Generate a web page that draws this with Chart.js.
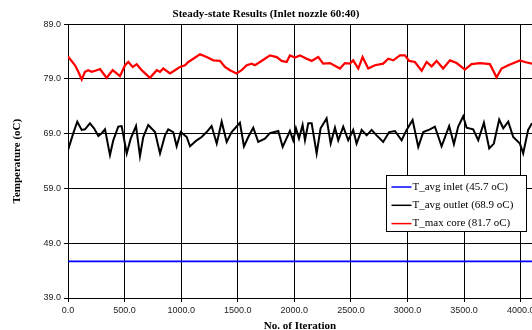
<!DOCTYPE html>
<html><head><meta charset="utf-8">
<script src="https://cdn.jsdelivr.net/npm/chart.js@4/dist/chart.umd.min.js"></script>
<style>
html,body{margin:0;padding:0;background:#fff;overflow:hidden;}
#wrap{width:532px;height:330px;overflow:hidden;position:relative;background:#fff;}
#c{position:absolute;left:0;top:0;}
</style></head><body>
<div id="wrap"><canvas id="c" width="585" height="335"></canvas></div>
<script>
const xTickValues = [0, 500, 1000, 1500, 2000, 2500, 3000, 3500, 4000];
const yTickValues = [39, 49, 59, 69, 79, 89];

const inletIter = [0, 4100];
const inletTemp = [45.7, 45.7];

const outletIter = [0,47,82,121,150,194,230,268,298,327,371,400,444,474,519,554,601,636,665,709,769,813,857,886,930,960,996,1049,1078,1137,1181,1225,1269,1314,1358,1402,1446,1519,1555,1593,1637,1681,1740,1784,1858,1897,1961,1990,2014,2041,2073,2094,2123,2153,2197,2232,2285,2321,2359,2388,2432,2476,2520,2550,2595,2639,2683,2727,2785,2838,2889,2948,2992,3045,3095,3139,3198,3242,3301,3368,3410,3448,3492,3522,3580,3625,3675,3722,3763,3810,3846,3890,3934,3993,4022,4066,4100];
const outletTemp = [66.0,69.1,71.2,69.7,69.8,70.9,70.0,68.6,69.1,69.8,65.1,67.8,70.3,70.4,65.4,68.1,70.4,64.9,68.4,70.6,69.3,65.4,68.7,69.8,69.3,66.7,69.3,68.4,66.7,67.8,68.4,69.3,70.4,67.2,71.2,67.5,69.3,71.0,66.7,68.4,70.1,67.5,68.1,69.1,69.5,66.6,69.5,67.8,70.0,68.1,70.6,67.8,70.9,70.9,65.4,70.0,71.8,67.2,70.1,67.8,70.3,67.8,69.7,67.2,69.7,68.7,69.7,68.7,67.5,69.3,69.5,67.8,69.7,71.5,66.6,69.3,69.8,70.3,66.7,70.4,67.1,70.3,72.2,70.1,69.8,67.8,71.0,66.3,67.2,71.6,70.0,71.2,68.4,67.2,65.4,69.7,70.9];

const coreIter = [0,62,91,121,150,179,209,254,283,312,342,371,395,430,459,504,533,572,607,651,724,784,813,842,901,945,989,1034,1063,1107,1166,1225,1284,1343,1387,1431,1490,1534,1579,1623,1652,1696,1740,1785,1844,1888,1932,1961,2005,2050,2109,2153,2211,2255,2315,2403,2447,2491,2520,2565,2603,2653,2712,2785,2830,2874,2933,2977,3015,3065,3125,3169,3213,3257,3315,3375,3434,3507,3566,3640,3728,3787,3831,3890,3993,4037,4100];
const coreTemp = [83.1,81.5,80.3,78.9,80.3,80.6,80.3,80.6,80.8,80.0,79.2,80.0,80.6,80.0,79.5,81.5,82.1,81.2,81.7,80.6,79.2,80.6,80.3,80.9,80.0,80.6,81.2,81.5,82.1,82.7,83.5,83.0,82.4,82.3,81.2,80.6,80.0,80.6,81.5,81.8,81.5,82.1,82.7,83.3,83.0,82.3,82.1,83.3,82.9,83.3,82.7,82.3,83.0,81.8,81.9,80.9,81.9,81.8,82.4,80.9,83.0,80.9,81.5,81.8,82.7,82.4,83.3,83.3,82.3,82.1,80.5,82.1,81.3,82.3,80.9,82.4,81.9,80.7,81.7,81.9,81.7,79.3,80.9,81.5,82.4,82.1,81.8];

const seriesLabels = ['T_avg inlet (45.7 oC)', 'T_avg outlet (68.9 oC)', 'T_max core (81.7 oC)'];

const toPts = (xs, ys) => xs.map((x, i) => ({x: x, y: ys[i]}));

const serif = 'Liberation Serif, Times New Roman, serif';
const sans = 'Liberation Sans, Arial, sans-serif';

const boxLegend = {
  id: 'boxLegend',
  afterDraw(chart) {
    const ctx = chart.ctx;
    const ca = chart.chartArea;
    const x0 = ca.right - 145.5, y0 = 175.5, w = 140, h = 56;
    ctx.save();
    ctx.fillStyle = '#fff';
    ctx.fillRect(x0, y0, w, h);
    ctx.strokeStyle = '#000';
    ctx.lineWidth = 1;
    ctx.strokeRect(x0, y0, w, h);
    ctx.font = '11px ' + serif;
    ctx.textBaseline = 'middle';
    ctx.textAlign = 'left';
    chart.data.datasets.forEach((ds, i) => {
      const yy = y0 + 11.5 + i * 18.3;
      ctx.strokeStyle = ds.borderColor;
      ctx.lineWidth = 1.5;
      ctx.beginPath();
      ctx.moveTo(x0 + 5, yy);
      ctx.lineTo(x0 + 25, yy);
      ctx.stroke();
      ctx.fillStyle = '#000';
      ctx.fillText(ds.label, x0 + 26, yy);
    });
    ctx.restore();
  }
};

new Chart(document.getElementById('c'), {
  type: 'line',
  data: {
    datasets: [
      {label: seriesLabels[0], data: toPts(inletIter, inletTemp), borderColor: '#0000ff', borderWidth: 1.75, pointRadius: 0, tension: 0},
      {label: seriesLabels[1], data: toPts(outletIter, outletTemp), borderColor: '#000000', borderWidth: 2, pointRadius: 0, tension: 0},
      {label: seriesLabels[2], data: toPts(coreIter, coreTemp), borderColor: '#ff0000', borderWidth: 2.25, pointRadius: 0, tension: 0}
    ]
  },
  options: {
    responsive: false,
    animation: false,
    layout: {padding: {left: 0, right: 53, top: 0, bottom: 0}},
    plugins: {
      legend: {display: false},
      tooltip: {enabled: false},
      title: {display: true, text: 'Steady-state Results (Inlet nozzle 60:40)', color: '#000',
        font: {family: serif, size: 11, weight: 'bold'}, padding: {top: 8, bottom: 3}}
    },
    scales: {
      x: {
        type: 'linear', min: 0, max: 4100,
        afterBuildTicks: s => { s.ticks = xTickValues.map(v => ({value: v})); },
        ticks: {autoSkip: false, maxRotation: 0,
          callback: v => Number(v).toFixed(1), color: '#222', padding: 3, font: {family: sans, size: 9}},
        grid: {color: '#000', lineWidth: 1, tickLength: 4, drawTicks: true},
        border: {color: '#000', width: 1},
        title: {display: true, text: 'No. of Iteration', color: '#000', font: {family: serif, size: 11, weight: 'bold'}, padding: {top: 2, bottom: 2}},
        afterFit: s => { s.height = 335 - 298; }
      },
      y: {
        type: 'linear', min: 39, max: 89,
        afterBuildTicks: s => { s.ticks = yTickValues.map(v => ({value: v})); },
        ticks: {callback: v => Number(v).toFixed(1), color: '#222', padding: 3, font: {family: sans, size: 9}},
        grid: {color: '#000', lineWidth: 1, tickLength: 4, drawTicks: true},
        border: {color: '#000', width: 1},
        title: {display: true, text: 'Temperature (oC)', color: '#000', font: {family: serif, size: 11, weight: 'bold'}, padding: {top: 11, bottom: 2}},
        afterFit: s => { s.width = 68; }
      }
    }
  },
  plugins: [boxLegend]
});
</script>
</body></html>
